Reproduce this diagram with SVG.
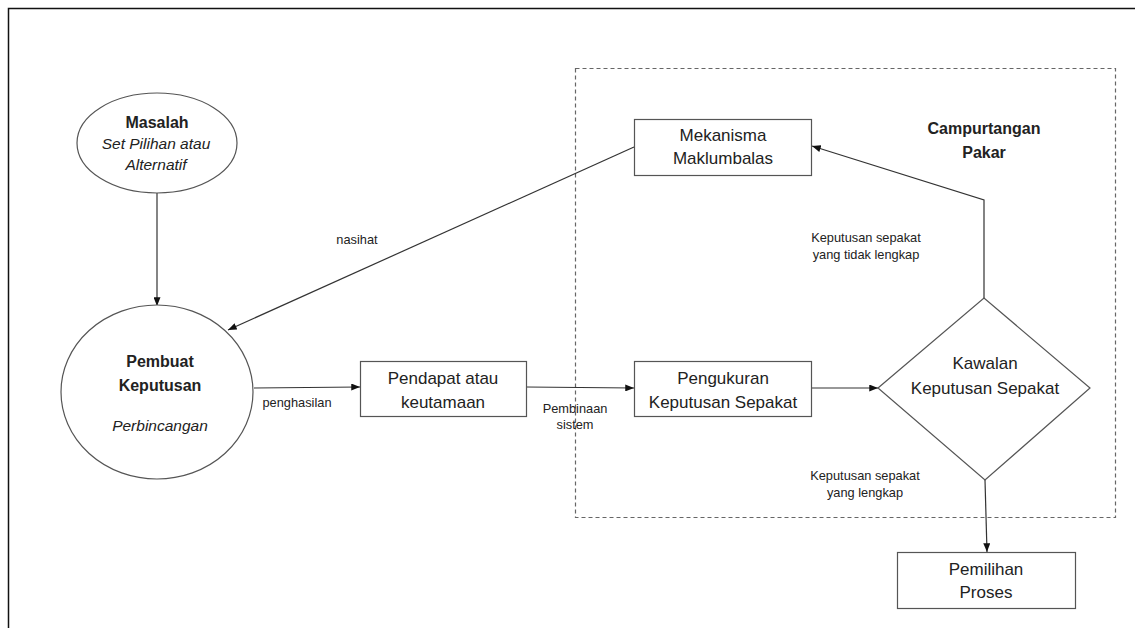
<svg xmlns="http://www.w3.org/2000/svg" width="1135" height="628" viewBox="0 0 1135 628">
  <defs>
    <marker id="arrow" viewBox="0 0 10 8" refX="10" refY="4" markerWidth="9" markerHeight="7" markerUnits="userSpaceOnUse" orient="auto">
      <path d="M0,0 L10,4 L0,8 Z" fill="#111"/>
    </marker>
    <style>
      .shape { fill: #fff; stroke: #555; stroke-width: 1.2; }
      .line { fill: none; stroke: #333; stroke-width: 1.2; }
      .frame { fill: none; stroke: #111; stroke-width: 1.5; }
      .dash { fill: none; stroke: #666; stroke-width: 1.2; stroke-dasharray: 4 3; }
      text { font-family: "Liberation Sans", Arial, sans-serif; fill: #222; text-anchor: middle; }
      .node { font-size: 17px; }
      .bold { font-size: 16px; font-weight: bold; }
      .ital { font-size: 15.5px; font-style: italic; }
      .lbl { font-size: 12.8px; }
    </style>
  </defs>

  <rect width="1135" height="628" fill="#fff"/>
  <!-- page frame -->
  <path class="frame" d="M8.5,628 V8.5 H1135"/>

  <!-- expert intervention region -->
  <g id="campurtangan-pakar">
    <rect class="dash" x="575.5" y="68.5" width="540" height="449"/>
    <text class="bold" x="984" y="134">Campurtangan</text>
    <text class="bold" x="984" y="158">Pakar</text>
  </g>

  <!-- connectors -->
  <g id="connectors">
    <line class="line" x1="157" y1="193" x2="157" y2="306" marker-end="url(#arrow)"/>
    <line class="line" x1="634" y1="147" x2="228" y2="330" marker-end="url(#arrow)"/>
    <line class="line" x1="254" y1="388" x2="360" y2="387" marker-end="url(#arrow)"/>
    <line class="line" x1="526" y1="387" x2="634" y2="388" marker-end="url(#arrow)"/>
    <line class="line" x1="812" y1="388" x2="878" y2="388" marker-end="url(#arrow)"/>
    <polyline class="line" points="984,298 984,200 812,146" marker-end="url(#arrow)"/>
    <line class="line" x1="985" y1="480" x2="987" y2="552" marker-end="url(#arrow)"/>
    <text class="lbl" x="357" y="244">nasihat</text>
    <text class="lbl" x="297" y="407">penghasilan</text>
    <text class="lbl" x="575" y="413">Pembinaan</text>
    <text class="lbl" x="575" y="429">sistem</text>
    <text class="lbl" x="866" y="242">Keputusan sepakat</text>
    <text class="lbl" x="866" y="259">yang tidak lengkap</text>
    <text class="lbl" x="865" y="480">Keputusan sepakat</text>
    <text class="lbl" x="865" y="497">yang lengkap</text>
  </g>

  <g id="masalah">
    <ellipse class="shape" cx="157" cy="143" rx="80" ry="50"/>
    <text class="bold" x="157" y="128">Masalah</text>
    <text class="ital" x="156" y="149">Set Pilihan atau</text>
    <text class="ital" x="156" y="170">Alternatif</text>
  </g>

  <g id="pembuat-keputusan">
    <ellipse class="shape" cx="157" cy="392" rx="96" ry="87"/>
    <text class="bold" x="160" y="367">Pembuat</text>
    <text class="bold" x="160" y="391">Keputusan</text>
    <text class="ital" x="160" y="431">Perbincangan</text>
  </g>

  <g id="pendapat">
    <rect class="shape" x="360.5" y="361.5" width="166" height="55"/>
    <text class="node" x="443" y="384">Pendapat atau</text>
    <text class="node" x="443" y="408">keutamaan</text>
  </g>

  <g id="pengukuran">
    <rect class="shape" x="634.5" y="361.5" width="177" height="55"/>
    <text class="node" x="723" y="384">Pengukuran</text>
    <text class="node" x="723" y="408">Keputusan Sepakat</text>
  </g>

  <g id="mekanisma">
    <rect class="shape" x="634.5" y="119.5" width="177" height="56"/>
    <text class="node" x="723" y="141">Mekanisma</text>
    <text class="node" x="723" y="164">Maklumbalas</text>
  </g>

  <g id="kawalan">
    <polygon class="shape" points="878,388 984,298 1090,388 985,480"/>
    <text class="node" x="985" y="369">Kawalan</text>
    <text class="node" x="985" y="394">Keputusan Sepakat</text>
  </g>

  <g id="pemilihan">
    <rect class="shape" x="897.5" y="552.5" width="178" height="56"/>
    <text class="node" x="986" y="575">Pemilihan</text>
    <text class="node" x="986" y="598">Proses</text>
  </g>
</svg>
